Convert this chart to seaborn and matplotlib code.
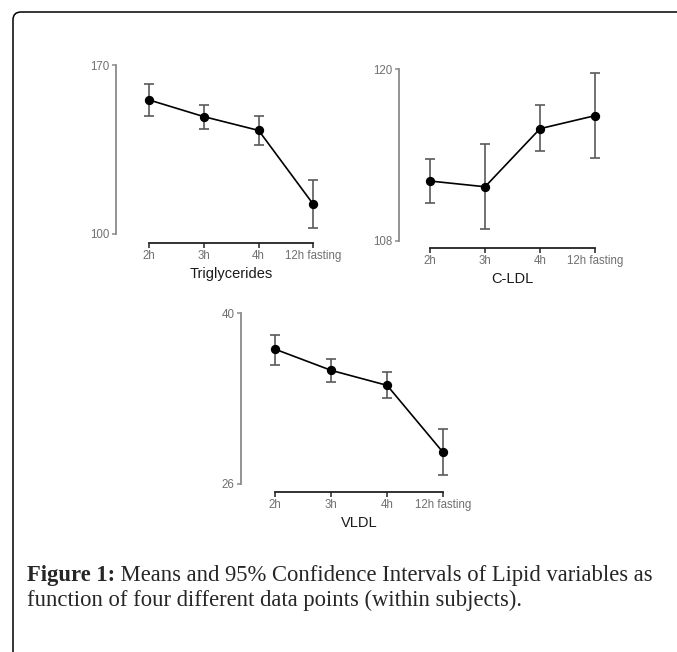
import numpy as np
import pandas as pd
import seaborn as sns
import matplotlib.pyplot as plt
from matplotlib.patches import FancyBboxPatch

# time points (within subjects)
timepoints = ["2h", "3h", "4h", "12h fasting"]

# means and 95% CI bounds
tg_mean = [155.5, 148.6, 142.9, 112.3]
tg_low = [149.0, 143.5, 136.9, 102.5]
tg_high = [162.1, 153.6, 149.0, 122.4]

ldl_mean = [112.17, 111.77, 115.83, 116.74]
ldl_low = [110.60, 108.79, 114.24, 113.76]
ldl_high = [113.73, 114.73, 117.48, 119.70]

vldl_mean = [37.05, 35.32, 34.09, 28.60]
vldl_low = [35.78, 34.39, 33.05, 26.72]
vldl_high = [38.25, 36.25, 35.16, 30.49]

panels = [
    ("Triglycerides", tg_mean, tg_low, tg_high, [100, 170]),
    ("C-LDL", ldl_mean, ldl_low, ldl_high, [108, 120]),
    ("VLDL", vldl_mean, vldl_low, vldl_high, [26, 40]),
]

W, H = 677, 652
# axes boxes in pixels: left, right, top, bottom, spine offsets (left, bottom)
boxes = [
    (141.1, 321.5, 65.0, 234.0, 25.4, 9.0),
    (421.8, 603.3, 69.0, 240.7, 22.8, 7.6),
    (266.9, 451.4, 313.3, 484.0, 25.9, 7.7),
]

sns.set_theme(style="ticks")
plt.rcParams["font.family"] = ["Liberation Sans", "DejaVu Sans"]

fig = plt.figure(figsize=(W / 100, H / 100), dpi=100)

for (name, mean, low, high, yt), (l, r, t, b, offl, offb) in zip(panels, boxes):
    ax = fig.add_axes([l / W, 1 - b / H, (r - l) / W, (b - t) / H])
    df = pd.DataFrame({"time": timepoints, "value": mean})
    sns.pointplot(data=df, x="time", y="value", ax=ax, color="black",
                  errorbar=None, markersize=5.8, linewidth=1.2, zorder=3)
    pos = np.arange(len(timepoints))
    yerr = [np.subtract(mean, low), np.subtract(high, mean)]
    ax.errorbar(pos, mean, yerr=yerr, fmt="none", ecolor="#5a5a5a",
                elinewidth=1.2, capsize=3.3, capthick=1.2, zorder=2)
    ax.set_xlim(-0.15, 3.15)
    ax.set_ylim(yt[0], yt[1])
    ax.set_yticks(yt)
    ax.set_xticks(pos)
    ax.set_xticklabels(timepoints)
    ax.set_xlabel(name, fontsize=10.5, color="#1a1a1a", labelpad=3.5)
    ax.set_ylabel("")
    sns.despine(ax=ax, trim=True)
    ax.spines["left"].set_position(("outward", offl * 0.72))
    ax.spines["bottom"].set_position(("outward", offb * 0.72))
    ax.spines["left"].set_color("#8a8a8a")
    ax.spines["left"].set_linewidth(1.3)
    ax.spines["bottom"].set_color("#222222")
    ax.spines["bottom"].set_linewidth(1.3)
    ax.tick_params(axis="y", length=3, width=1.1, color="#8a8a8a",
                   labelsize=8.3, labelcolor="#707070", pad=1.5)
    ax.tick_params(axis="x", length=3.5, width=1.1, color="#222222",
                   labelsize=8.3, labelcolor="#707070", pad=1.5)
    ax.patch.set_alpha(0)
    for c in ax.get_children():
        c.set_clip_on(False)

# frame around the figure (open at the right and bottom)
frame = FancyBboxPatch((13 / W, -0.1), 1.2, 1 - 12 / H + 0.1,
                       boxstyle="round,pad=0,rounding_size=0.012",
                       transform=fig.transFigure, fill=False,
                       edgecolor="black", linewidth=1.1)
fig.add_artist(frame)

serif = ["Liberation Serif", "DejaVu Serif"]
fs = 16.3
cap = fig.text(27 / W, 1 - 581 / H, "Figure 1:", family=serif,
               fontsize=fs, fontweight="bold", va="baseline")
fig.canvas.draw()
bb = cap.get_window_extent()
fig.text(bb.x1 / W, 1 - 581 / H,
         " Means and 95% Confidence Intervals of Lipid variables as",
         family=serif, fontsize=fs, va="baseline")
fig.text(27 / W, 1 - 606 / H,
         "function of four different data points (within subjects).",
         family=serif, fontsize=fs, va="baseline")

fig.savefig("out.png", dpi=100)
